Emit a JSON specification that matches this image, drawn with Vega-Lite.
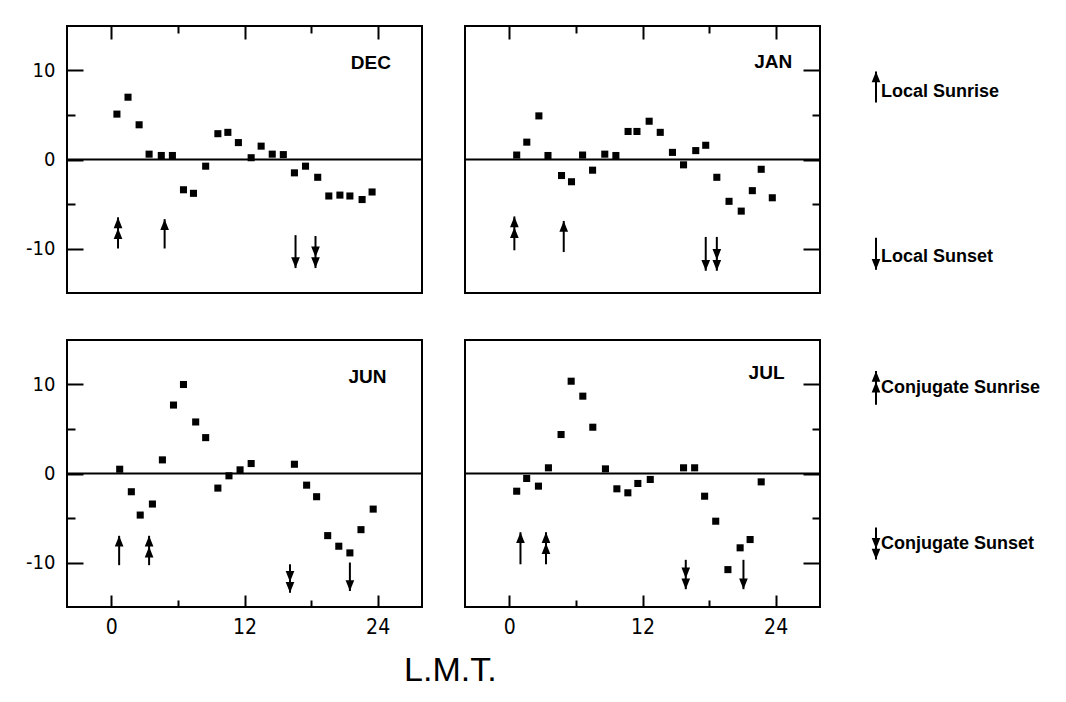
{
  "$schema": "https://vega.github.io/schema/vega-lite/v6.json",
  "background": "white",
  "padding": {"left": 24, "top": 24, "right": 5, "bottom": 5},
  "config": {
    "view": {"stroke": "black", "strokeWidth": 2},
    "axis": {"grid": false, "domain": false, "tickColor": "black", "tickWidth": 2, "labelColor": "black", "labelFont": "'Liberation Sans Narrow', 'DejaVu Sans Condensed', 'Liberation Sans', sans-serif", "labelFontWeight": "normal", "labelExpr": "replace(datum.label, '\u2212', '-')"},
    "concat": {"spacing": 39}
  },
  "datasets": {
    "points": [
      {"panel": "DEC", "lmt": 0.5, "value": 5.1}, {"panel": "DEC", "lmt": 1.5, "value": 7.0}, {"panel": "DEC", "lmt": 2.5, "value": 3.9}, {"panel": "DEC", "lmt": 3.4, "value": 0.6}, {"panel": "DEC", "lmt": 4.5, "value": 0.45}, {"panel": "DEC", "lmt": 5.5, "value": 0.45}, {"panel": "DEC", "lmt": 6.5, "value": -3.4}, {"panel": "DEC", "lmt": 7.4, "value": -3.8}, {"panel": "DEC", "lmt": 8.5, "value": -0.75}, {"panel": "DEC", "lmt": 9.6, "value": 2.9}, {"panel": "DEC", "lmt": 10.5, "value": 3.05}, {"panel": "DEC", "lmt": 11.45, "value": 1.9}, {"panel": "DEC", "lmt": 12.6, "value": 0.2}, {"panel": "DEC", "lmt": 13.5, "value": 1.5}, {"panel": "DEC", "lmt": 14.5, "value": 0.6}, {"panel": "DEC", "lmt": 15.5, "value": 0.55}, {"panel": "DEC", "lmt": 16.5, "value": -1.5}, {"panel": "DEC", "lmt": 17.5, "value": -0.75}, {"panel": "DEC", "lmt": 18.6, "value": -2.0}, {"panel": "DEC", "lmt": 19.6, "value": -4.1}, {"panel": "DEC", "lmt": 20.6, "value": -4.0}, {"panel": "DEC", "lmt": 21.5, "value": -4.1}, {"panel": "DEC", "lmt": 22.6, "value": -4.5}, {"panel": "DEC", "lmt": 23.5, "value": -3.65},
      {"panel": "JAN", "lmt": 0.66, "value": 0.5}, {"panel": "JAN", "lmt": 1.57, "value": 1.95}, {"panel": "JAN", "lmt": 2.66, "value": 4.9}, {"panel": "JAN", "lmt": 3.48, "value": 0.45}, {"panel": "JAN", "lmt": 4.7, "value": -1.8}, {"panel": "JAN", "lmt": 5.6, "value": -2.5}, {"panel": "JAN", "lmt": 6.6, "value": 0.5}, {"panel": "JAN", "lmt": 7.5, "value": -1.2}, {"panel": "JAN", "lmt": 8.6, "value": 0.6}, {"panel": "JAN", "lmt": 9.6, "value": 0.45}, {"panel": "JAN", "lmt": 10.7, "value": 3.15}, {"panel": "JAN", "lmt": 11.5, "value": 3.15}, {"panel": "JAN", "lmt": 12.6, "value": 4.3}, {"panel": "JAN", "lmt": 13.6, "value": 3.05}, {"panel": "JAN", "lmt": 14.7, "value": 0.8}, {"panel": "JAN", "lmt": 15.7, "value": -0.6}, {"panel": "JAN", "lmt": 16.8, "value": 1.0}, {"panel": "JAN", "lmt": 17.7, "value": 1.6}, {"panel": "JAN", "lmt": 18.7, "value": -2.0}, {"panel": "JAN", "lmt": 19.8, "value": -4.7}, {"panel": "JAN", "lmt": 20.9, "value": -5.8}, {"panel": "JAN", "lmt": 21.9, "value": -3.5}, {"panel": "JAN", "lmt": 22.7, "value": -1.1}, {"panel": "JAN", "lmt": 23.7, "value": -4.3},
      {"panel": "JUN", "lmt": 0.75, "value": 0.48}, {"panel": "JUN", "lmt": 1.8, "value": -2.05}, {"panel": "JUN", "lmt": 2.6, "value": -4.67}, {"panel": "JUN", "lmt": 3.7, "value": -3.43}, {"panel": "JUN", "lmt": 4.6, "value": 1.53}, {"panel": "JUN", "lmt": 5.6, "value": 7.69}, {"panel": "JUN", "lmt": 6.5, "value": 10.0}, {"panel": "JUN", "lmt": 7.6, "value": 5.79}, {"panel": "JUN", "lmt": 8.5, "value": 4.03}, {"panel": "JUN", "lmt": 9.6, "value": -1.64}, {"panel": "JUN", "lmt": 10.6, "value": -0.26}, {"panel": "JUN", "lmt": 11.6, "value": 0.41}, {"panel": "JUN", "lmt": 12.6, "value": 1.12}, {"panel": "JUN", "lmt": 16.5, "value": 1.04}, {"panel": "JUN", "lmt": 17.6, "value": -1.31}, {"panel": "JUN", "lmt": 18.5, "value": -2.61}, {"panel": "JUN", "lmt": 19.5, "value": -6.98}, {"panel": "JUN", "lmt": 20.5, "value": -8.17}, {"panel": "JUN", "lmt": 21.5, "value": -8.92}, {"panel": "JUN", "lmt": 22.5, "value": -6.31}, {"panel": "JUN", "lmt": 23.6, "value": -4.0},
      {"panel": "JUL", "lmt": 0.66, "value": -1.99}, {"panel": "JUL", "lmt": 1.56, "value": -0.56}, {"panel": "JUL", "lmt": 2.62, "value": -1.42}, {"panel": "JUL", "lmt": 3.52, "value": 0.64}, {"panel": "JUL", "lmt": 4.66, "value": 4.38}, {"panel": "JUL", "lmt": 5.57, "value": 10.37}, {"panel": "JUL", "lmt": 6.62, "value": 8.69}, {"panel": "JUL", "lmt": 7.52, "value": 5.2}, {"panel": "JUL", "lmt": 8.66, "value": 0.52}, {"panel": "JUL", "lmt": 9.69, "value": -1.72}, {"panel": "JUL", "lmt": 10.68, "value": -2.17}, {"panel": "JUL", "lmt": 11.58, "value": -1.12}, {"panel": "JUL", "lmt": 12.7, "value": -0.67}, {"panel": "JUL", "lmt": 15.7, "value": 0.64}, {"panel": "JUL", "lmt": 16.7, "value": 0.64}, {"panel": "JUL", "lmt": 17.6, "value": -2.55}, {"panel": "JUL", "lmt": 18.6, "value": -5.36}, {"panel": "JUL", "lmt": 19.7, "value": -10.8}, {"panel": "JUL", "lmt": 20.8, "value": -8.35}, {"panel": "JUL", "lmt": 21.7, "value": -7.42}, {"panel": "JUL", "lmt": 22.7, "value": -0.94}
    ],
    "arrows": [
      {"panel": "DEC", "kind": "Conjugate Sunrise", "lmt": 0.6, "tail": -10, "tip": -6.5},
      {"panel": "DEC", "kind": "Local Sunrise", "lmt": 4.8, "tail": -10, "tip": -6.7},
      {"panel": "DEC", "kind": "Local Sunset", "lmt": 16.6, "tail": -8.5, "tip": -12.2},
      {"panel": "DEC", "kind": "Conjugate Sunset", "lmt": 18.4, "tail": -8.6, "tip": -12.2},
      {"panel": "JAN", "kind": "Conjugate Sunrise", "lmt": 0.45, "tail": -10.2, "tip": -6.4},
      {"panel": "JAN", "kind": "Local Sunrise", "lmt": 4.9, "tail": -10.4, "tip": -6.9},
      {"panel": "JAN", "kind": "Local Sunset", "lmt": 17.7, "tail": -8.7, "tip": -12.5},
      {"panel": "JAN", "kind": "Conjugate Sunset", "lmt": 18.7, "tail": -8.7, "tip": -12.5},
      {"panel": "JUN", "kind": "Local Sunrise", "lmt": 0.7, "tail": -10.3, "tip": -7.0},
      {"panel": "JUN", "kind": "Conjugate Sunrise", "lmt": 3.4, "tail": -10.3, "tip": -7.0},
      {"panel": "JUN", "kind": "Conjugate Sunset", "lmt": 16.1, "tail": -10.2, "tip": -13.4},
      {"panel": "JUN", "kind": "Local Sunset", "lmt": 21.5, "tail": -10.0, "tip": -13.2},
      {"panel": "JUL", "kind": "Local Sunrise", "lmt": 1.0, "tail": -10.2, "tip": -6.6},
      {"panel": "JUL", "kind": "Conjugate Sunrise", "lmt": 3.3, "tail": -10.2, "tip": -6.6},
      {"panel": "JUL", "kind": "Conjugate Sunset", "lmt": 15.9, "tail": -9.7, "tip": -13.0},
      {"panel": "JUL", "kind": "Local Sunset", "lmt": 21.1, "tail": -9.7, "tip": -13.0}
    ],
    "labels": [
      {"panel": "DEC"}, {"panel": "JAN"}, {"panel": "JUN"}, {"panel": "JUL"}
    ],
    "legend": [
      {"row": "top", "kind": "Local Sunrise", "tail": 6.4, "tip": 9.9, "ytext": 7.6},
      {"row": "top", "kind": "Local Sunset", "tail": -8.8, "tip": -12.4, "ytext": -11.0},
      {"row": "bottom", "kind": "Conjugate Sunrise", "tail": 7.5, "tip": 11.3, "ytext": 9.4},
      {"row": "bottom", "kind": "Conjugate Sunset", "tail": -6.3, "tip": -9.9, "ytext": -8.2}
    ]
  },
  "hconcat": [
    {
      "vconcat": [
        {
          "hconcat": [
            {
              "width": 355, "height": 267,
              "resolve": {"axis": {"x": "independent", "y": "independent"}},
              "layer": [
                {"data": {"name": "labels"}, "transform": [{"filter": "datum.panel == 'DEC'"}],
                 "mark": {"type": "rule", "color": "black", "strokeWidth": 2},
                 "encoding": {"y": {"datum": 0, "type": "quantitative", "scale": {"domain": [-15, 15], "nice": false}, "axis": null}}},
                {"data": {"name": "points"}, "transform": [{"filter": "datum.panel == 'DEC'"}],
                 "mark": {"type": "point", "shape": "square", "filled": true, "color": "black", "opacity": 1, "size": 50},
                 "encoding": {
                   "x": {"field": "lmt", "type": "quantitative", "scale": {"domain": [-4, 28], "nice": false, "zero": false}, "axis": {"orient": "top", "values": [0, 12, 24], "tickSize": -13, "labels": false, "title": null}},
                   "y": {"field": "value", "type": "quantitative", "scale": {"domain": [-15, 15], "nice": false}, "axis": {"orient": "left", "values": [-10, 0, 10], "tickSize": -16, "labelPadding": 28, "labelFontSize": 20, "title": null}}}},
                {"data": {"name": "arrows"}, "transform": [{"filter": "datum.panel == 'DEC'"}],
                 "mark": {"type": "rule", "color": "black", "strokeWidth": 2},
                 "encoding": {
                   "x": {"field": "lmt", "type": "quantitative", "axis": {"orient": "top", "values": [6, 18], "tickSize": -7, "labels": false, "title": null}},
                   "y": {"field": "tail", "type": "quantitative", "axis": {"orient": "left", "values": [-5, 5], "tickSize": -8, "labels": false, "title": null}},
                   "y2": {"field": "tip"}}},
                {"data": {"name": "arrows"}, "transform": [{"filter": "datum.panel == 'DEC'"}],
                 "mark": {"type": "point", "filled": true, "color": "black", "opacity": 1, "size": 300, "strokeWidth": 0},
                 "encoding": {
                   "x": {"field": "lmt", "type": "quantitative", "axis": null},
                   "y": {"field": "tip", "type": "quantitative", "axis": null},
                   "shape": {"field": "kind", "type": "nominal", "legend": null, "scale": {"domain": ["Local Sunrise", "Local Sunset", "Conjugate Sunrise", "Conjugate Sunset"], "range": ["M0,0L0.5,1.25L-0.5,1.25Z", "M0,0L0.5,-1.25L-0.5,-1.25Z", "M0,0L0.5,1.25L-0.5,1.25Z M0,1.25L0.5,2.5L-0.5,2.5Z", "M0,0L0.5,-1.25L-0.5,-1.25Z M0,-1.25L0.5,-2.5L-0.5,-2.5Z"]}}}},
                {"data": {"name": "labels"}, "transform": [{"filter": "datum.panel == 'DEC'"}],
                 "mark": {"type": "text", "align": "right", "baseline": "middle", "fontSize": 19, "fontWeight": "bold", "font": "'Liberation Sans', sans-serif", "color": "black"},
                 "encoding": {"x": {"datum": 25.2, "type": "quantitative", "axis": null}, "y": {"datum": 10.8, "type": "quantitative", "axis": null}, "text": {"field": "panel"}}}
              ]
            },
            {
              "width": 355, "height": 267,
              "resolve": {"axis": {"x": "independent", "y": "independent"}},
              "layer": [
                {"data": {"name": "labels"}, "transform": [{"filter": "datum.panel == 'JAN'"}],
                 "mark": {"type": "rule", "color": "black", "strokeWidth": 2},
                 "encoding": {"y": {"datum": 0, "type": "quantitative", "scale": {"domain": [-15, 15], "nice": false}, "axis": null}}},
                {"data": {"name": "points"}, "transform": [{"filter": "datum.panel == 'JAN'"}],
                 "mark": {"type": "point", "shape": "square", "filled": true, "color": "black", "opacity": 1, "size": 50},
                 "encoding": {
                   "x": {"field": "lmt", "type": "quantitative", "scale": {"domain": [-4, 28], "nice": false, "zero": false}, "axis": {"orient": "top", "values": [0, 12, 24], "tickSize": -13, "labels": false, "title": null}},
                   "y": {"field": "value", "type": "quantitative", "scale": {"domain": [-15, 15], "nice": false}, "axis": {"orient": "right", "values": [-10, 0, 10], "tickSize": -17, "labels": false, "title": null}}}},
                {"data": {"name": "arrows"}, "transform": [{"filter": "datum.panel == 'JAN'"}],
                 "mark": {"type": "rule", "color": "black", "strokeWidth": 2},
                 "encoding": {
                   "x": {"field": "lmt", "type": "quantitative", "axis": {"orient": "top", "values": [6, 18], "tickSize": -7, "labels": false, "title": null}},
                   "y": {"field": "tail", "type": "quantitative", "axis": {"orient": "right", "values": [-5, 5], "tickSize": -8, "labels": false, "title": null}},
                   "y2": {"field": "tip"}}},
                {"data": {"name": "arrows"}, "transform": [{"filter": "datum.panel == 'JAN'"}],
                 "mark": {"type": "point", "filled": true, "color": "black", "opacity": 1, "size": 300, "strokeWidth": 0},
                 "encoding": {
                   "x": {"field": "lmt", "type": "quantitative", "axis": null},
                   "y": {"field": "tip", "type": "quantitative", "axis": null},
                   "shape": {"field": "kind", "type": "nominal", "legend": null, "scale": {"domain": ["Local Sunrise", "Local Sunset", "Conjugate Sunrise", "Conjugate Sunset"], "range": ["M0,0L0.5,1.25L-0.5,1.25Z", "M0,0L0.5,-1.25L-0.5,-1.25Z", "M0,0L0.5,1.25L-0.5,1.25Z M0,1.25L0.5,2.5L-0.5,2.5Z", "M0,0L0.5,-1.25L-0.5,-1.25Z M0,-1.25L0.5,-2.5L-0.5,-2.5Z"]}}}},
                {"data": {"name": "labels"}, "transform": [{"filter": "datum.panel == 'JAN'"}],
                 "mark": {"type": "text", "align": "right", "baseline": "middle", "fontSize": 19, "fontWeight": "bold", "font": "'Liberation Sans', sans-serif", "color": "black"},
                 "encoding": {"x": {"datum": 25.5, "type": "quantitative", "axis": null}, "y": {"datum": 11.0, "type": "quantitative", "axis": null}, "text": {"field": "panel"}}}
              ]
            }
          ]
        },
        {
          "hconcat": [
            {
              "width": 355, "height": 267,
              "resolve": {"axis": {"x": "independent", "y": "independent"}},
              "layer": [
                {"data": {"name": "labels"}, "transform": [{"filter": "datum.panel == 'JUN'"}],
                 "mark": {"type": "rule", "color": "black", "strokeWidth": 2},
                 "encoding": {"y": {"datum": 0, "type": "quantitative", "scale": {"domain": [-15, 15], "nice": false}, "axis": null}}},
                {"data": {"name": "points"}, "transform": [{"filter": "datum.panel == 'JUN'"}],
                 "mark": {"type": "point", "shape": "square", "filled": true, "color": "black", "opacity": 1, "size": 50},
                 "encoding": {
                   "x": {"field": "lmt", "type": "quantitative", "scale": {"domain": [-4, 28], "nice": false, "zero": false}, "axis": {"orient": "bottom", "values": [0, 12, 24], "tickSize": -12, "labelPadding": 21, "labelFontSize": 21, "title": null}},
                   "y": {"field": "value", "type": "quantitative", "scale": {"domain": [-15, 15], "nice": false}, "axis": {"orient": "left", "values": [-10, 0, 10], "tickSize": -16, "labelPadding": 28, "labelFontSize": 20, "title": null}}}},
                {"data": {"name": "arrows"}, "transform": [{"filter": "datum.panel == 'JUN'"}],
                 "mark": {"type": "rule", "color": "black", "strokeWidth": 2},
                 "encoding": {
                   "x": {"field": "lmt", "type": "quantitative", "axis": {"orient": "bottom", "values": [6, 18], "tickSize": -7, "labels": false, "title": null}},
                   "y": {"field": "tail", "type": "quantitative", "axis": {"orient": "left", "values": [-5, 5], "tickSize": -8, "labels": false, "title": null}},
                   "y2": {"field": "tip"}}},
                {"data": {"name": "arrows"}, "transform": [{"filter": "datum.panel == 'JUN'"}],
                 "mark": {"type": "point", "filled": true, "color": "black", "opacity": 1, "size": 300, "strokeWidth": 0},
                 "encoding": {
                   "x": {"field": "lmt", "type": "quantitative", "axis": null},
                   "y": {"field": "tip", "type": "quantitative", "axis": null},
                   "shape": {"field": "kind", "type": "nominal", "legend": null, "scale": {"domain": ["Local Sunrise", "Local Sunset", "Conjugate Sunrise", "Conjugate Sunset"], "range": ["M0,0L0.5,1.25L-0.5,1.25Z", "M0,0L0.5,-1.25L-0.5,-1.25Z", "M0,0L0.5,1.25L-0.5,1.25Z M0,1.25L0.5,2.5L-0.5,2.5Z", "M0,0L0.5,-1.25L-0.5,-1.25Z M0,-1.25L0.5,-2.5L-0.5,-2.5Z"]}}}},
                {"data": {"name": "labels"}, "transform": [{"filter": "datum.panel == 'JUN'"}],
                 "mark": {"type": "text", "align": "right", "baseline": "middle", "fontSize": 19, "fontWeight": "bold", "font": "'Liberation Sans', sans-serif", "color": "black"},
                 "encoding": {"x": {"datum": 24.8, "type": "quantitative", "axis": null}, "y": {"datum": 10.8, "type": "quantitative", "axis": null}, "text": {"field": "panel"}}}
              ]
            },
            {
              "width": 355, "height": 267,
              "resolve": {"axis": {"x": "independent", "y": "independent"}},
              "layer": [
                {"data": {"name": "labels"}, "transform": [{"filter": "datum.panel == 'JUL'"}],
                 "mark": {"type": "rule", "color": "black", "strokeWidth": 2},
                 "encoding": {"y": {"datum": 0, "type": "quantitative", "scale": {"domain": [-15, 15], "nice": false}, "axis": null}}},
                {"data": {"name": "points"}, "transform": [{"filter": "datum.panel == 'JUL'"}],
                 "mark": {"type": "point", "shape": "square", "filled": true, "color": "black", "opacity": 1, "size": 50},
                 "encoding": {
                   "x": {"field": "lmt", "type": "quantitative", "scale": {"domain": [-4, 28], "nice": false, "zero": false}, "axis": {"orient": "bottom", "values": [0, 12, 24], "tickSize": -12, "labelPadding": 21, "labelFontSize": 21, "title": null}},
                   "y": {"field": "value", "type": "quantitative", "scale": {"domain": [-15, 15], "nice": false}, "axis": {"orient": "right", "values": [-10, 0, 10], "tickSize": -17, "labels": false, "title": null}}}},
                {"data": {"name": "arrows"}, "transform": [{"filter": "datum.panel == 'JUL'"}],
                 "mark": {"type": "rule", "color": "black", "strokeWidth": 2},
                 "encoding": {
                   "x": {"field": "lmt", "type": "quantitative", "axis": {"orient": "bottom", "values": [6, 18], "tickSize": -7, "labels": false, "title": null}},
                   "y": {"field": "tail", "type": "quantitative", "axis": {"orient": "right", "values": [-5, 5], "tickSize": -8, "labels": false, "title": null}},
                   "y2": {"field": "tip"}}},
                {"data": {"name": "arrows"}, "transform": [{"filter": "datum.panel == 'JUL'"}],
                 "mark": {"type": "point", "filled": true, "color": "black", "opacity": 1, "size": 300, "strokeWidth": 0},
                 "encoding": {
                   "x": {"field": "lmt", "type": "quantitative", "axis": null},
                   "y": {"field": "tip", "type": "quantitative", "axis": null},
                   "shape": {"field": "kind", "type": "nominal", "legend": null, "scale": {"domain": ["Local Sunrise", "Local Sunset", "Conjugate Sunrise", "Conjugate Sunset"], "range": ["M0,0L0.5,1.25L-0.5,1.25Z", "M0,0L0.5,-1.25L-0.5,-1.25Z", "M0,0L0.5,1.25L-0.5,1.25Z M0,1.25L0.5,2.5L-0.5,2.5Z", "M0,0L0.5,-1.25L-0.5,-1.25Z M0,-1.25L0.5,-2.5L-0.5,-2.5Z"]}}}},
                {"data": {"name": "labels"}, "transform": [{"filter": "datum.panel == 'JUL'"}],
                 "mark": {"type": "text", "align": "right", "baseline": "middle", "fontSize": 19, "fontWeight": "bold", "font": "'Liberation Sans', sans-serif", "color": "black"},
                 "encoding": {"x": {"datum": 24.8, "type": "quantitative", "axis": null}, "y": {"datum": 11.3, "type": "quantitative", "axis": null}, "text": {"field": "panel"}}}
              ]
            }
          ]
        }
      ],
      "spacing": 45,
      "title": {"text": "L.M.T.", "orient": "bottom", "anchor": "middle", "fontSize": 34, "fontWeight": "normal", "font": "'Liberation Sans', sans-serif", "color": "black", "offset": 16, "dx": 27}
    },
    {
      "vconcat": [
        {
          "width": 190, "height": 267, "view": {"stroke": null},
          "data": {"name": "legend"}, "transform": [{"filter": "datum.row == 'top'"}],
          "layer": [
            {"mark": {"type": "rule", "color": "black", "strokeWidth": 2},
             "encoding": {"x": {"datum": 1.7, "type": "quantitative", "scale": {"domain": [0, 19], "nice": false}, "axis": null}, "y": {"field": "tail", "type": "quantitative", "scale": {"domain": [-15, 15], "nice": false}, "axis": null}, "y2": {"field": "tip"}}},
            {"mark": {"type": "point", "filled": true, "color": "black", "opacity": 1, "size": 300, "strokeWidth": 0},
             "encoding": {"x": {"datum": 1.7, "type": "quantitative", "axis": null}, "y": {"field": "tip", "type": "quantitative", "axis": null},
               "shape": {"field": "kind", "type": "nominal", "legend": null, "scale": {"domain": ["Local Sunrise", "Local Sunset", "Conjugate Sunrise", "Conjugate Sunset"], "range": ["M0,0L0.5,1.25L-0.5,1.25Z", "M0,0L0.5,-1.25L-0.5,-1.25Z", "M0,0L0.5,1.25L-0.5,1.25Z M0,1.25L0.5,2.5L-0.5,2.5Z", "M0,0L0.5,-1.25L-0.5,-1.25Z M0,-1.25L0.5,-2.5L-0.5,-2.5Z"]}}}},
            {"mark": {"type": "text", "align": "left", "baseline": "middle", "dx": 5, "fontSize": 18, "fontWeight": "bold", "font": "'Liberation Sans', sans-serif", "color": "black"},
             "encoding": {"x": {"datum": 1.7, "type": "quantitative", "axis": null}, "y": {"field": "ytext", "type": "quantitative", "axis": null}, "text": {"field": "kind"}}}
          ]
        },
        {
          "width": 190, "height": 267, "view": {"stroke": null},
          "data": {"name": "legend"}, "transform": [{"filter": "datum.row == 'bottom'"}],
          "layer": [
            {"mark": {"type": "rule", "color": "black", "strokeWidth": 2},
             "encoding": {"x": {"datum": 1.7, "type": "quantitative", "scale": {"domain": [0, 19], "nice": false}, "axis": null}, "y": {"field": "tail", "type": "quantitative", "scale": {"domain": [-15, 15], "nice": false}, "axis": null}, "y2": {"field": "tip"}}},
            {"mark": {"type": "point", "filled": true, "color": "black", "opacity": 1, "size": 300, "strokeWidth": 0},
             "encoding": {"x": {"datum": 1.7, "type": "quantitative", "axis": null}, "y": {"field": "tip", "type": "quantitative", "axis": null},
               "shape": {"field": "kind", "type": "nominal", "legend": null, "scale": {"domain": ["Local Sunrise", "Local Sunset", "Conjugate Sunrise", "Conjugate Sunset"], "range": ["M0,0L0.5,1.25L-0.5,1.25Z", "M0,0L0.5,-1.25L-0.5,-1.25Z", "M0,0L0.5,1.25L-0.5,1.25Z M0,1.25L0.5,2.5L-0.5,2.5Z", "M0,0L0.5,-1.25L-0.5,-1.25Z M0,-1.25L0.5,-2.5L-0.5,-2.5Z"]}}}},
            {"mark": {"type": "text", "align": "left", "baseline": "middle", "dx": 5, "fontSize": 18, "fontWeight": "bold", "font": "'Liberation Sans', sans-serif", "color": "black"},
             "encoding": {"x": {"datum": 1.7, "type": "quantitative", "axis": null}, "y": {"field": "ytext", "type": "quantitative", "axis": null}, "text": {"field": "kind"}}}
          ]
        }
      ],
      "spacing": 45
    }
  ],
  "spacing": 37
}
